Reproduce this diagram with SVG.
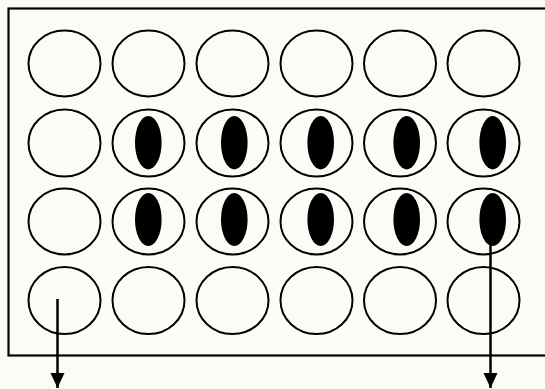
<svg xmlns="http://www.w3.org/2000/svg" width="545" height="389" viewBox="0 0 545 389">
<defs>
<style>
.well{fill:none;stroke:#000;stroke-width:2}
.spot{fill:#000;stroke:none}
.conn{stroke:#000;stroke-width:2.5;fill:none}
</style>
<marker id="ah" markerUnits="userSpaceOnUse" markerWidth="16" markerHeight="16" viewBox="0 0 16 16" refX="15" refY="8" orient="auto">
<path d="M0,1 L15,8 L0,15 Z" fill="#000"/>
</marker>
</defs>
<rect x="0" y="0" width="545" height="389" fill="#fcfcf7"/>
<rect id="plate" x="8.5" y="8.5" width="545" height="347" fill="none" stroke="#000" stroke-width="2.2"/>
<g id="row1">
<ellipse class="well" cx="64.5" cy="63.5" rx="36" ry="33"/>
<ellipse class="well" cx="148.5" cy="63.5" rx="36" ry="33"/>
<ellipse class="well" cx="232.5" cy="63.5" rx="36" ry="33"/>
<ellipse class="well" cx="316.5" cy="63.5" rx="36" ry="33"/>
<ellipse class="well" cx="400" cy="63.5" rx="36" ry="33"/>
<ellipse class="well" cx="483.5" cy="63.5" rx="36" ry="33"/>
</g>
<g id="row2">
<ellipse class="well" cx="64.5" cy="143" rx="36" ry="33.5"/>
<ellipse class="well" cx="148.5" cy="143" rx="36" ry="33.5"/>
<ellipse class="well" cx="232.5" cy="143" rx="36" ry="33.5"/>
<ellipse class="well" cx="316.5" cy="143" rx="36" ry="33.5"/>
<ellipse class="well" cx="400" cy="143" rx="36" ry="33.5"/>
<ellipse class="well" cx="483.5" cy="143" rx="36" ry="33.5"/>
<ellipse class="spot" cx="148.3" cy="142.7" rx="13.3" ry="26.7"/>
<ellipse class="spot" cx="234.3" cy="142.7" rx="13.3" ry="26.7"/>
<ellipse class="spot" cx="320.7" cy="142.7" rx="13.3" ry="26.7"/>
<ellipse class="spot" cx="406.7" cy="142.7" rx="13.3" ry="26.7"/>
<ellipse class="spot" cx="492.7" cy="142.7" rx="13.3" ry="26.7"/>
</g>
<g id="row3">
<ellipse class="well" cx="64.5" cy="221.5" rx="36" ry="33"/>
<ellipse class="well" cx="148.5" cy="221.5" rx="36" ry="33"/>
<ellipse class="well" cx="232.5" cy="221.5" rx="36" ry="33"/>
<ellipse class="well" cx="316.5" cy="221.5" rx="36" ry="33"/>
<ellipse class="well" cx="400" cy="221.5" rx="36" ry="33"/>
<ellipse class="well" cx="483.5" cy="221.5" rx="36" ry="33"/>
<ellipse class="spot" cx="148.3" cy="219.5" rx="13.3" ry="26.5"/>
<ellipse class="spot" cx="234.3" cy="219.5" rx="13.3" ry="26.5"/>
<ellipse class="spot" cx="320.7" cy="219.5" rx="13.3" ry="26.5"/>
<ellipse class="spot" cx="406.7" cy="219.5" rx="13.3" ry="26.5"/>
<ellipse class="spot" cx="492.7" cy="219.5" rx="13.3" ry="26.5"/>
</g>
<g id="row4">
<ellipse class="well" cx="64.5" cy="300.5" rx="36" ry="33.5"/>
<ellipse class="well" cx="148.5" cy="300.5" rx="36" ry="33.5"/>
<ellipse class="well" cx="232.5" cy="300.5" rx="36" ry="33.5"/>
<ellipse class="well" cx="316.5" cy="300.5" rx="36" ry="33.5"/>
<ellipse class="well" cx="400" cy="300.5" rx="36" ry="33.5"/>
<ellipse class="well" cx="483.5" cy="300.5" rx="36" ry="33.5"/>
</g>
<g id="connectors">
<line class="conn" x1="57.5" y1="299" x2="57.5" y2="388" marker-end="url(#ah)"/>
<line class="conn" x1="490.5" y1="243" x2="490.5" y2="388" marker-end="url(#ah)"/>
</g>
</svg>
